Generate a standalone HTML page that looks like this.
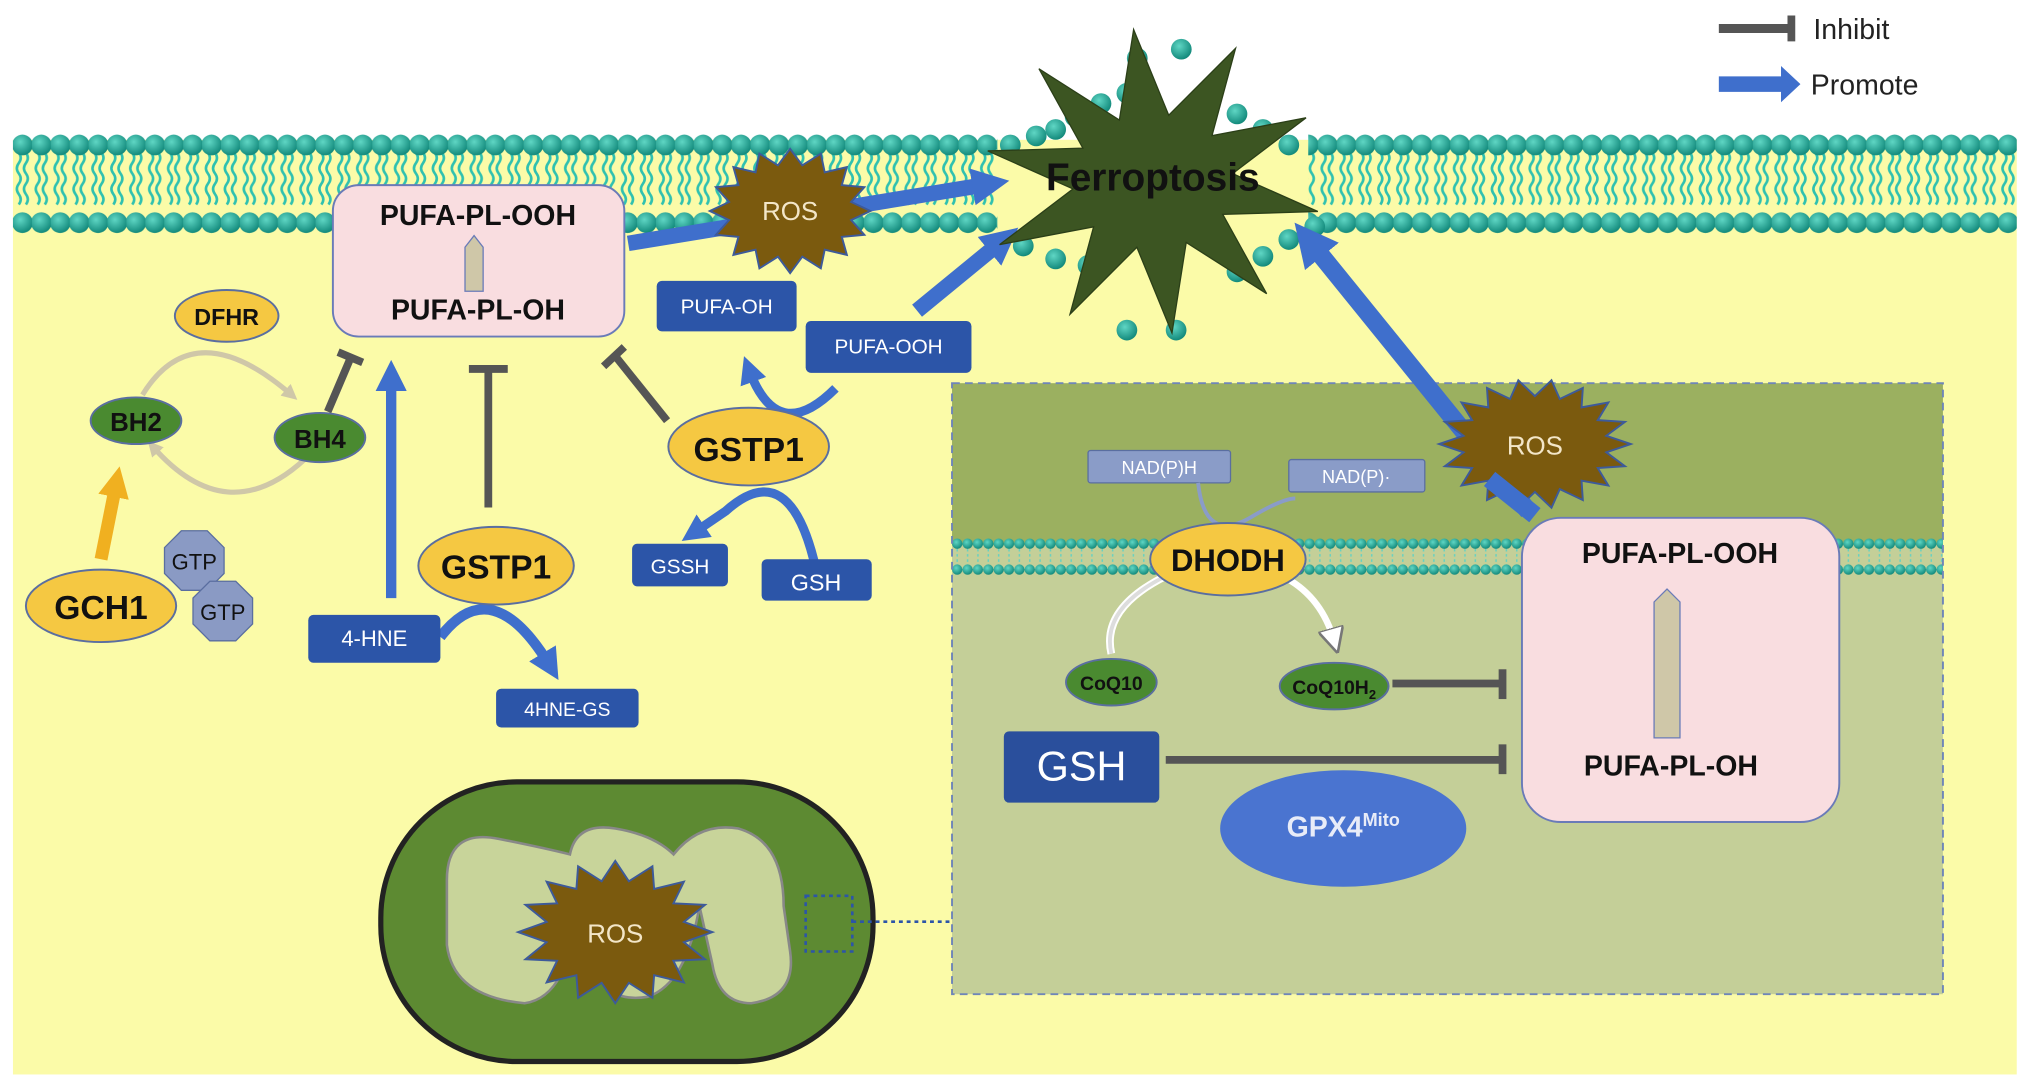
<!DOCTYPE html>
<html><head><meta charset="utf-8"><style>
html,body{margin:0;padding:0;background:#fff;}
svg{display:block;}
text{font-family:"Liberation Sans",sans-serif;}
</style></head><body>
<svg width="2031" height="1090" viewBox="0 0 1568 842" preserveAspectRatio="none" xmlns="http://www.w3.org/2000/svg">
<defs>
<radialGradient id="hd" cx="40%" cy="35%" r="65%"><stop offset="0" stop-color="#5fd6c4"/><stop offset="1" stop-color="#138a7c"/></radialGradient>
<pattern id="mem" x="10" y="0" width="14.6" height="200" patternUnits="userSpaceOnUse">
<path d="M4.5 118 q3 4 0 8 q-3 4 0 8 q3 4 0 8 q-3 4 0 8 q3 4 0 8 M10 118 q3 4 0 8 q-3 4 0 8 q3 4 0 8 q-3 4 0 8 q3 4 0 8" fill="none" stroke="#2fc1b0" stroke-width="2"/>
<circle cx="7.3" cy="112" r="8" fill="url(#hd)"/>
<circle cx="7.3" cy="172" r="8" fill="url(#hd)"/>
</pattern>
<pattern id="mem2" x="735" y="0" width="8" height="460" patternUnits="userSpaceOnUse">
<path d="M4 420 v18" stroke="#6ad0c0" stroke-width="1.2" stroke-dasharray="2 2"/>
<circle cx="4" cy="420" r="4" fill="url(#hd)"/>
<circle cx="4" cy="440" r="4" fill="url(#hd)"/>
</pattern>
<marker id="ab" viewBox="0 0 10 10" refX="5" refY="5" markerWidth="2.4" markerHeight="2.4" orient="auto"><path d="M0 0L10 5L0 10z" fill="#3f6fcc"/></marker>
<marker id="ab2" viewBox="0 0 10 10" refX="5" refY="5" markerWidth="3" markerHeight="3" orient="auto"><path d="M0 0L10 5L0 10z" fill="#3f6fcc"/></marker>
<marker id="ao" viewBox="0 0 10 10" refX="5" refY="5" markerWidth="2.4" markerHeight="2.4" orient="auto"><path d="M0 0L10 5L0 10z" fill="#f0b020"/></marker>
<marker id="ag" viewBox="0 0 10 10" refX="5" refY="5" markerWidth="3" markerHeight="3" orient="auto"><path d="M0 0L10 5L0 10z" fill="#cfc7a8"/></marker>
<marker id="aw" viewBox="0 0 10 10" refX="5" refY="5" markerWidth="4" markerHeight="4" orient="auto"><path d="M0 0L10 5L0 10z" fill="#fff" stroke="#777"/></marker>
</defs>
<rect x="10" y="108" width="1547" height="722" fill="#fbfba8"/>
<rect x="10" y="100" width="760" height="84" fill="url(#mem)"/>
<rect x="1010" y="100" width="547" height="84" fill="url(#mem)"/>
<g fill="url(#hd)">
<circle cx="878" cy="45" r="8"/><circle cx="912" cy="38" r="8"/>
<circle cx="830" cy="90" r="8"/><circle cx="850" cy="80" r="8"/><circle cx="870" cy="72" r="8"/><circle cx="935" cy="75" r="8"/><circle cx="955" cy="88" r="8"/><circle cx="975" cy="100" r="8"/><circle cx="995" cy="112" r="8"/>
<circle cx="780" cy="112" r="8"/><circle cx="800" cy="105" r="8"/><circle cx="815" cy="100" r="8"/>
<circle cx="790" cy="190" r="8"/><circle cx="815" cy="200" r="8"/><circle cx="840" cy="205" r="8"/><circle cx="955" cy="210" r="8"/><circle cx="975" cy="198" r="8"/><circle cx="995" cy="185" r="8"/><circle cx="1015" cy="175" r="8"/>
<circle cx="870" cy="255" r="8"/><circle cx="908" cy="255" r="8"/>
</g>
<rect x="735" y="296" width="765" height="125" fill="#9bb060"/>
<rect x="735" y="421" width="765" height="347" fill="#c4cf98"/>
<rect x="735" y="414" width="765" height="32" fill="url(#mem2)"/>
<rect x="735" y="296" width="765" height="472" fill="none" stroke="#6f86b8" stroke-width="1.5" stroke-dasharray="6 4"/>
<line x1="1327" y1="22" x2="1382" y2="22" stroke="#555" stroke-width="7"/><line x1="1383" y1="12" x2="1383" y2="32" stroke="#555" stroke-width="6"/>
<text x="1400" y="30" font-size="22" fill="#222">Inhibit</text>
<path d="M1327 59h48v-8l15 14l-15 14v-8h-48z" fill="#3f6fcc"/>
<text x="1398" y="73" font-size="22" fill="#222">Promote</text>
<line x1="485" y1="188" x2="765" y2="142" stroke="#3f6fcc" stroke-width="12" marker-end="url(#ab)"/>
<line x1="708" y1="240" x2="775" y2="185" stroke="#3f6fcc" stroke-width="12" marker-end="url(#ab)"/>
<line x1="1180" y1="395" x2="1010" y2="185" stroke="#3f6fcc" stroke-width="14" marker-end="url(#ab)"/>
<polygon id="fstar" fill="#3c5522" stroke="#2b3f18" stroke-width="1"/>
<text x="890" y="147" font-size="30" font-weight="bold" text-anchor="middle" fill="#111">Ferroptosis</text>
<polygon id="ros1" fill="#7b5a0e" stroke="#3d5a9a" stroke-width="1.5"/>
<text x="610" y="170" font-size="20" text-anchor="middle" fill="#f3e6c8">ROS</text>
<polygon id="ros2" fill="#7b5a0e" stroke="#3d5a9a" stroke-width="1.5"/>
<line x1="1150" y1="370" x2="1185" y2="398" stroke="#3f6fcc" stroke-width="14"/>
<text x="1185" y="351" font-size="20" text-anchor="middle" fill="#f3e6c8">ROS</text>
<rect x="257" y="143" width="225" height="117" rx="20" fill="#f9dde0" stroke="#6a7bb8" stroke-width="1.5"/>
<text x="369" y="174" font-size="22" font-weight="bold" text-anchor="middle" fill="#111">PUFA-PL-OOH</text>
<text x="369" y="247" font-size="22" font-weight="bold" text-anchor="middle" fill="#111">PUFA-PL-OH</text>
<path d="M359 225v-34l7-9l7 9v34z" fill="#cfc7a8" stroke="#6a7bb8"/>
<rect x="507" y="217" width="108" height="39" rx="4" fill="#2c55a8"/>
<text x="561" y="242" font-size="16" text-anchor="middle" fill="#fff">PUFA-OH</text>
<rect x="622" y="248" width="128" height="40" rx="4" fill="#2c55a8"/>
<text x="686" y="273" font-size="16" text-anchor="middle" fill="#fff">PUFA-OOH</text>
<path d="M110 305 Q150 240 225 305" fill="none" stroke="#cfc7a8" stroke-width="4" marker-end="url(#ag)"/>
<path d="M235 355 Q175 410 118 345" fill="none" stroke="#cfc7a8" stroke-width="4" marker-end="url(#ag)"/>
<ellipse cx="175" cy="244" rx="40" ry="20" fill="#f5c842" stroke="#5a6ea0" stroke-width="1.5"/>
<text x="175" y="251" font-size="18" font-weight="bold" text-anchor="middle" fill="#111">DFHR</text>
<ellipse cx="105" cy="325" rx="35" ry="18" fill="#4a8a30" stroke="#5a6ea0" stroke-width="1.5"/>
<text x="105" y="333" font-size="20" font-weight="bold" text-anchor="middle" fill="#111">BH2</text>
<ellipse cx="247" cy="338" rx="35" ry="19" fill="#4a8a30" stroke="#5a6ea0" stroke-width="1.5"/>
<text x="247" y="346" font-size="20" font-weight="bold" text-anchor="middle" fill="#111">BH4</text>
<line x1="78" y1="432" x2="90" y2="372" stroke="#f0b020" stroke-width="10" marker-end="url(#ao)"/>
<polygon points="140,410 160,410 173,423 173,443 160,456 140,456 127,443 127,423" fill="#8a9ac4" stroke="#5a6ea0"/>
<text x="150" y="440" font-size="17" text-anchor="middle" fill="#111">GTP</text>
<polygon points="162,449 182,449 195,462 195,482 182,495 162,495 149,482 149,462" fill="#8a9ac4" stroke="#5a6ea0"/>
<text x="172" y="479" font-size="17" text-anchor="middle" fill="#111">GTP</text>
<ellipse cx="78" cy="468" rx="58" ry="28" fill="#f5c842" stroke="#5a6ea0" stroke-width="1.5"/>
<text x="78" y="478" font-size="26" font-weight="bold" text-anchor="middle" fill="#111">GCH1</text>
<g stroke="#555" stroke-width="6">
<line x1="253" y1="318" x2="270" y2="278"/><line x1="261" y1="272" x2="280" y2="280"/>
<line x1="377" y1="392" x2="377" y2="285"/><line x1="362" y1="285" x2="392" y2="285"/>
<line x1="515" y1="325" x2="475" y2="275"/><line x1="466" y1="283" x2="482" y2="268"/>
<line x1="1075" y1="528" x2="1158" y2="528"/><line x1="1160" y1="517" x2="1160" y2="540"/>
<line x1="900" y1="587" x2="1158" y2="587"/><line x1="1160" y1="575" x2="1160" y2="598"/>
</g>
<line x1="302" y1="462" x2="302" y2="290" stroke="#3f6fcc" stroke-width="8" marker-end="url(#ab2)"/>
<path d="M340 492 Q380 440 425 515" fill="none" stroke="#3f6fcc" stroke-width="8" marker-end="url(#ab2)"/>
<ellipse cx="383" cy="437" rx="60" ry="30" fill="#f5c842" stroke="#5a6ea0" stroke-width="1.5"/>
<text x="383" y="447" font-size="26" font-weight="bold" text-anchor="middle" fill="#111">GSTP1</text>
<rect x="238" y="475" width="102" height="37" rx="4" fill="#2c55a8"/>
<text x="289" y="499" font-size="17" text-anchor="middle" fill="#fff">4-HNE</text>
<rect x="383" y="532" width="110" height="30" rx="4" fill="#2c55a8"/>
<text x="438" y="553" font-size="15" text-anchor="middle" fill="#fff">4HNE-GS</text>
<path d="M645 300 Q600 345 578 285" fill="none" stroke="#3f6fcc" stroke-width="7" marker-end="url(#ab2)"/>
<path d="M630 440 Q610 350 560 395 L535 412" fill="none" stroke="#3f6fcc" stroke-width="7" marker-end="url(#ab2)"/>
<ellipse cx="578" cy="345" rx="62" ry="30" fill="#f5c842" stroke="#5a6ea0" stroke-width="1.5"/>
<text x="578" y="356" font-size="26" font-weight="bold" text-anchor="middle" fill="#111">GSTP1</text>
<rect x="488" y="420" width="74" height="33" rx="4" fill="#2c55a8"/>
<text x="525" y="443" font-size="16" text-anchor="middle" fill="#fff">GSSH</text>
<rect x="588" y="432" width="85" height="32" rx="4" fill="#2c55a8"/>
<text x="630" y="456" font-size="18" text-anchor="middle" fill="#fff">GSH</text>
<rect x="840" y="348" width="110" height="25" rx="2" fill="#8a9cc8" stroke="#5a6ea0"/>
<text x="895" y="366" font-size="14" text-anchor="middle" fill="#fff">NAD(P)H</text>
<rect x="995" y="355" width="105" height="25" rx="2" fill="#8a9cc8" stroke="#5a6ea0"/>
<text x="1047" y="373" font-size="14" text-anchor="middle" fill="#fff">NAD(P)·</text>
<path d="M925 373 Q930 420 965 400 Q990 385 1000 385" fill="none" stroke="#8a9cc8" stroke-width="3"/>
<path d="M900 445 Q850 470 858 505" fill="none" stroke="#fff" stroke-width="6"/>
<path d="M900 445 Q850 470 858 505" fill="none" stroke="#ddd" stroke-width="3"/>
<path d="M990 445 Q1020 460 1030 495" fill="none" stroke="#fff" stroke-width="5" marker-end="url(#aw)"/>
<ellipse cx="948" cy="432" rx="60" ry="28" fill="#f5c842" stroke="#5a6ea0" stroke-width="1.5"/>
<text x="948" y="441" font-size="24" font-weight="bold" text-anchor="middle" fill="#111">DHODH</text>
<ellipse cx="858" cy="527" rx="35" ry="18" fill="#4a8a30" stroke="#5a6ea0" stroke-width="1.5"/>
<text x="858" y="533" font-size="15" font-weight="bold" text-anchor="middle" fill="#111">CoQ10</text>
<ellipse cx="1030" cy="530" rx="42" ry="18" fill="#4a8a30" stroke="#5a6ea0" stroke-width="1.5"/>
<text x="1030" y="536" font-size="15" font-weight="bold" text-anchor="middle" fill="#111">CoQ10H<tspan font-size="10" dy="4">2</tspan></text>
<rect x="775" y="565" width="120" height="55" rx="4" fill="#2a4f9c"/>
<text x="835" y="603" font-size="32" text-anchor="middle" fill="#fff">GSH</text>
<ellipse cx="1037" cy="640" rx="95" ry="45" fill="#4a74d0"/>
<text x="1037" y="646" font-size="22" font-weight="bold" text-anchor="middle" fill="#e8ecf8">GPX4<tspan font-size="14" dy="-8">Mito</tspan></text>
<rect x="1175" y="400" width="245" height="235" rx="30" fill="#f9dde0" stroke="#6a7bb8" stroke-width="1.5"/>
<text x="1297" y="435" font-size="22" font-weight="bold" text-anchor="middle" fill="#111">PUFA-PL-OOH</text>
<text x="1290" y="599" font-size="22" font-weight="bold" text-anchor="middle" fill="#111">PUFA-PL-OH</text>
<path d="M1277 570v-105l10-10l10 10v105z" fill="#cfc7a8" stroke="#6a7bb8"/>
<rect x="294" y="604" width="380" height="216" rx="105" fill="#5d8a32" stroke="#222" stroke-width="4"/>
<path d="M345 680 Q345 640 385 648 Q420 655 440 660 Q445 635 475 640 Q505 645 520 660 Q540 635 570 640 Q605 650 605 700 L610 735 Q615 770 580 775 Q555 775 550 745 L540 700 Q530 760 500 770 Q470 775 460 750 L445 700 Q440 770 405 775 Q350 770 345 730 Z" fill="#c8d49a" stroke="#888" stroke-width="2"/>
<polygon id="ros3" fill="#7b5a0e" stroke="#3d5a9a" stroke-width="1.5"/>
<text x="475" y="728" font-size="20" text-anchor="middle" fill="#f3e6c8">ROS</text>
<rect x="622" y="692" width="36" height="43" fill="none" stroke="#2c55a8" stroke-width="2" stroke-dasharray="3 3"/>
<line x1="658" y1="712" x2="735" y2="712" stroke="#2c55a8" stroke-width="2" stroke-dasharray="3 3"/>
</svg>
<script>
function star(id,cx,cy,rx,ry,ix,iy,n,off){var p=[];for(var i=0;i<2*n;i++){var a=Math.PI*i/n+(off||0);var o=i%2==0;p.push((cx+Math.cos(a)*(o?rx:ix)).toFixed(1)+","+(cy+Math.sin(a)*(o?ry:iy)).toFixed(1));}document.getElementById(id).setAttribute("points",p.join(" "));}
star("fstar",890,140,130,118,62,52,10,0.2);
star("ros1",610,163,62,48,48,36,16,0);
star("ros2",1185,343,74,50,56,37,18,0);
star("ros3",475,720,75,55,54,40,16,0);
</script>
</body></html>
